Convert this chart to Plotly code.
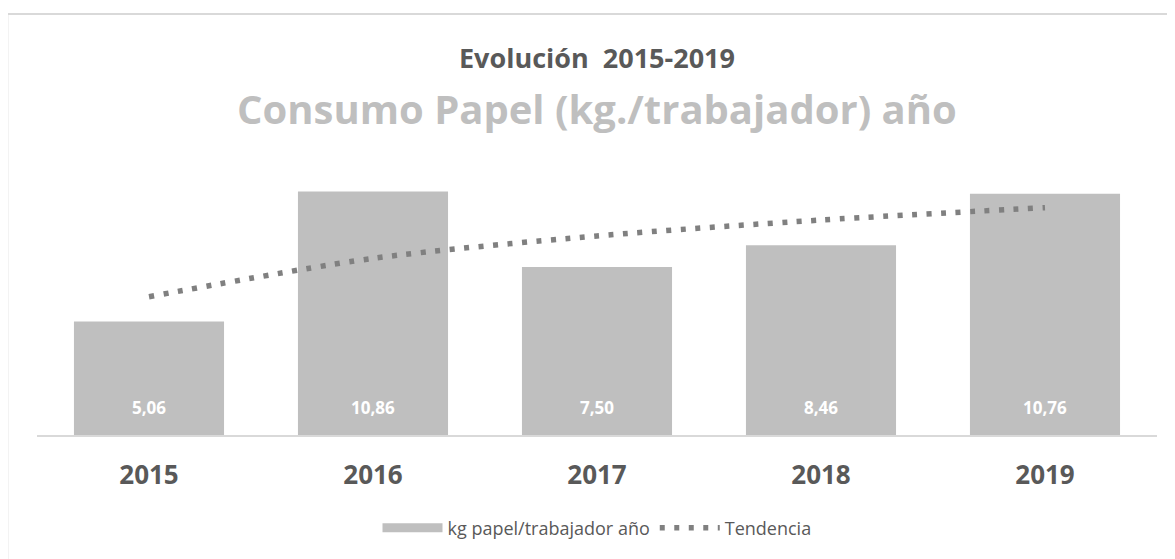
import plotly.graph_objects as go

years = ["2015", "2016", "2017", "2018", "2019"]
kg_papel = [5.06, 10.86, 7.50, 8.46, 10.76]
labels = ["5,06", "10,86", "7,50", "8,46", "10,76"]
# logarithmic trend at each year
tendencia = [6.17, 7.88, 8.88, 9.59, 10.14]

FONT = "Open Sans"
BAR_COLOR = "#bfbfbf"
fig = go.Figure()
fig.add_trace(go.Bar(
    x=years, y=kg_papel, name="kg papel/trabajador año",
    marker=dict(color=BAR_COLOR, line=dict(width=0)),
    hoverinfo="y", showlegend=False, legendgroup="bars",
))
# legend entry for the bars, drawn as a wide swatch like the original
fig.add_trace(go.Scatter(
    x=[None], y=[None], name="kg papel/trabajador año", mode="lines",
    line=dict(color=BAR_COLOR, width=9), legendgroup="bars",
))
fig.add_trace(go.Scatter(
    x=years, y=tendencia, name="Tendencia", mode="lines",
    line=dict(color="#808080", width=5.5, dash="5px,9.5px", shape="spline", smoothing=0.8),
))

# data labels near the base of each bar (category index positions)
for i, lab in enumerate(labels):
    fig.add_annotation(x=i, y=0, xref="x", yref="y", text=f"<b>{lab}</b>",
                       showarrow=False, yanchor="middle", yshift=28,
                       font=dict(family=FONT, size=17, color="#ffffff"))

fig.add_annotation(x=0.5, y=1.405, xref="paper", yref="paper",
                   text="<b>Evolución  2015-2019</b>", showarrow=False,
                   xanchor="center", yanchor="middle",
                   font=dict(family=FONT, size=27, color="#595959"))
fig.add_annotation(x=0.5, y=1.212, xref="paper", yref="paper",
                   text="<b>Consumo Papel (kg./trabajador) año</b>", showarrow=False,
                   xanchor="center", yanchor="middle",
                   font=dict(family=FONT, size=40, color="#bfbfbf"))

fig.add_shape(type="rect", xref="paper", yref="paper",
              x0=-0.0265, y0=-0.7, x1=1.2, y1=1.565,
              line=dict(color="#d9d9d9", width=2), layer="below")

fig.update_layout(
    width=1175, height=559,
    margin=dict(l=29, r=26, t=158, b=132, autoexpand=False),
    paper_bgcolor="white", plot_bgcolor="white",
    bargap=0.33,
    showlegend=True,
    legend=dict(orientation="h", x=0.5, xanchor="center", y=-0.346, yanchor="middle",
                font=dict(family=FONT, size=18, color="#595959"),
                itemwidth=60, tracegroupgap=0),
    xaxis=dict(type="category", range=[-0.5, 4.5], showgrid=False, showline=True,
               linecolor="#d9d9d9", linewidth=1.5, ticks="", automargin=False,
               tickfont=dict(family=FONT, size=26, color="#595959"),
               ticklabelstandoff=16, tickprefix="<b>", ticksuffix="</b>"),
    yaxis=dict(range=[0, 12], visible=False, showgrid=False, automargin=False),
    font=dict(family=FONT),
)

fig.write_html("out.html")
